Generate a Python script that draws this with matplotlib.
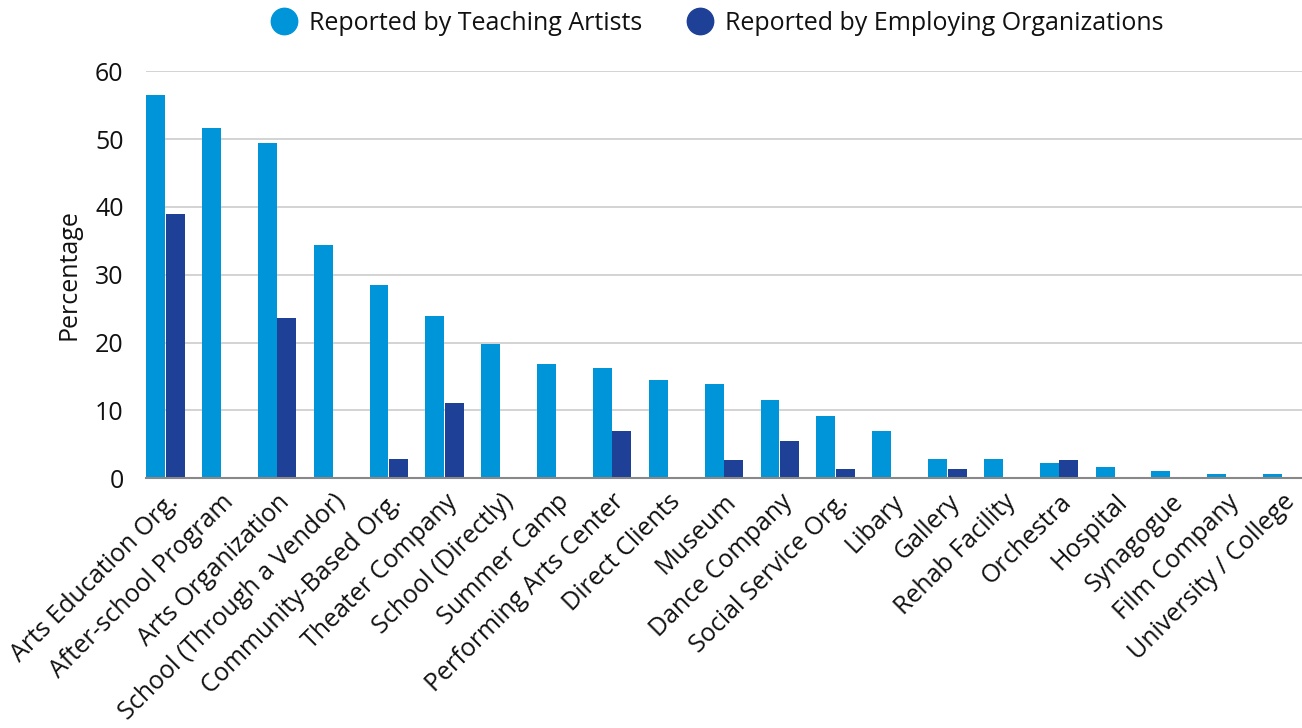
import numpy as np
import matplotlib.pyplot as plt
from matplotlib.lines import Line2D

plt.rcParams['font.family'] = ['Open Sans', 'DejaVu Sans']

categories = ['Arts Education Org.', 'After-school Program', 'Arts Organization',
              'School (Through a Vendor)', 'Community-Based Org.', 'Theater Company',
              'School (Directly)', 'Summer Camp', 'Performing Arts Center',
              'Direct Clients', 'Museum', 'Dance Company', 'Social Service Org.',
              'Libary', 'Gallery', 'Rehab Facility', 'Orchestra', 'Hospital',
              'Synagogue', 'Film Company', 'University / College']

artists = [56.5, 51.7, 49.5, 34.4, 28.5, 23.9, 19.8, 16.8, 16.2, 14.5, 13.9,
           11.5, 9.2, 6.9, 2.8, 2.8, 2.3, 1.7, 1.1, 0.6, 0.6]
orgs = [38.9, 0, 23.6, 0, 2.8, 11.1, 0, 0, 6.9, 0, 2.7,
        5.5, 1.3, 0, 1.3, 0, 2.7, 0, 0, 0, 0]

c_light = '#0095d9'
c_dark = '#1e4096'
txt = '#111111'

fig = plt.figure(figsize=(13.02, 7.28), dpi=100)
ax = fig.add_axes([0.112, 0.343, 0.888, 0.559])

x = np.arange(len(categories))
w = 0.35
ax.bar(x - w / 2, artists, w * 0.97, color=c_light, zorder=3)
ax.bar(x + w / 2, orgs, w * 0.97, color=c_dark, zorder=3)

ax.set_xlim(-0.35, len(categories) - 1 + 0.35)
ax.set_ylim(0, 60)
ax.set_yticks(range(0, 61, 10))
ax.tick_params(axis='y', length=0, labelsize=18, pad=16, colors=txt)
ax.tick_params(axis='x', length=0, labelsize=18, pad=8, colors=txt)
ax.set_xticks(x)
ax.set_xticklabels(categories, rotation=45, ha='right', rotation_mode='anchor')
ax.set_ylabel('Percentage', fontsize=18, color=txt, labelpad=10)

ax.grid(axis='y', color='#cccccc', linewidth=1.2, zorder=0)
for s in ['top', 'right', 'left']:
    ax.spines[s].set_visible(False)
ax.spines['bottom'].set_color('#888888')
ax.spines['bottom'].set_linewidth(1.5)
ax.spines['bottom'].set_zorder(4)

handles = [Line2D([], [], marker='o', linestyle='none', markersize=19, color=c_light),
           Line2D([], [], marker='o', linestyle='none', markersize=19, color=c_dark)]
fig.legend(handles, ['Reported by Teaching Artists', 'Reported by Employing Organizations'],
           loc='center', bbox_to_anchor=(0.546, 0.968), ncol=2, frameon=False,
           fontsize=18, handletextpad=0.0, columnspacing=1.3, labelcolor=txt)

fig.savefig('out.png', dpi=100)
